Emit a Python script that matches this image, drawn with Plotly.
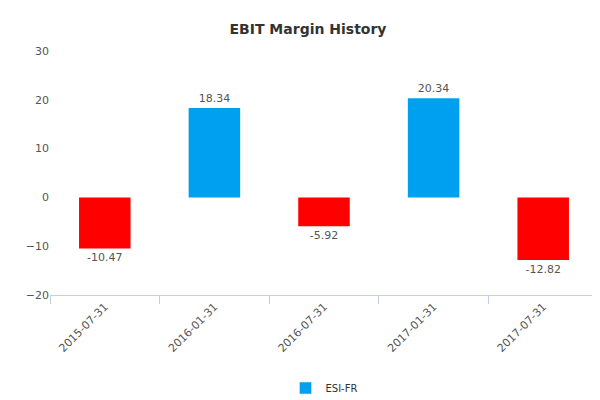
import plotly.graph_objects as go

dates = ["2015-07-31", "2016-01-31", "2016-07-31", "2017-01-31", "2017-07-31"]
margins = [-10.47, 18.34, -5.92, 20.34, -12.82]
series_name = "ESI-FR"

colors = ["#FF0000" if v < 0 else "#00A0F0" for v in margins]

fig = go.Figure()
fig.add_trace(go.Bar(
    x=dates, y=margins, marker=dict(color=colors, line=dict(width=0)),
    width=0.47, text=[f"{v:.2f}" for v in margins], textposition="outside",
    textfont=dict(size=11, color="#555555"), cliponaxis=False, showlegend=False,
))
# legend entry only
fig.add_trace(go.Bar(x=[None], y=[None], name=series_name, marker_color="#00A0F0"))

fig.update_layout(
    width=600, height=400,
    margin=dict(l=42, r=10, t=43, b=113, autoexpand=False),
    plot_bgcolor="white", paper_bgcolor="white",
    font=dict(family="DejaVu Sans", size=11, color="#555555"),
    title=dict(text="<b>EBIT Margin History</b>", x=0.5, y=0.96, xanchor="center",
               font=dict(size=14, color="#333333")),
    showlegend=True,
    legend=dict(orientation="h", x=0.5, xanchor="center", yref="container",
                y=0.05, yanchor="middle", font=dict(size=10, color="#333333")),
    xaxis=dict(type="category", tickangle=-45, showline=True, linecolor="#C0D0E0",
               ticks="outside", tickcolor="#C0D0E0", ticklen=8, automargin=False,
               tickson="boundaries", showgrid=False),
    yaxis=dict(range=[-20, 30], dtick=10, showgrid=False, zeroline=False,
               showline=False, ticks="", automargin=False),
    annotations=[dict(text="www.capitalcube.com", xref="paper", yref="paper",
                      x=1.0, y=-0.5, xanchor="right", yanchor="middle", showarrow=False,
                      font=dict(size=9, color="#777777"))],
)

fig.write_html("out.html")
